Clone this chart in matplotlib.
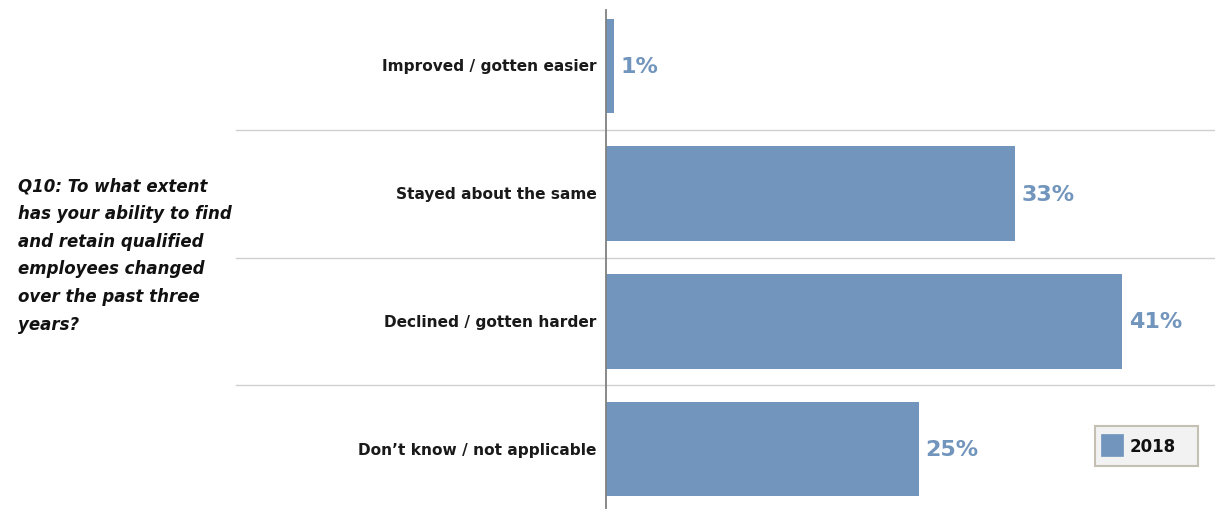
import matplotlib
matplotlib.use("Agg")
import matplotlib.pyplot as plt
from matplotlib.patches import Rectangle
from matplotlib.lines import Line2D

categories = ["Improved / gotten easier", "Stayed about the same",
              "Declined / gotten harder", "Don\u2019t know / not applicable"]
values_2018 = [0.65, 32.7, 41.3, 25.0]
series_name = "2018"
question = ("Q10: To what extent\nhas your ability to find\nand retain qualified\n"
            "employees changed\nover the past three\nyears?")

BAR = "#7195BC"
W, H = 1215, 510
fig = plt.figure(figsize=(W / 100, H / 100), dpi=100)
ax = fig.add_axes([606 / W, -4 / H, 1 - 606 / W, 511 / H])
n = len(categories)
ypos = list(range(n))
ax.barh(ypos, values_2018, height=0.74, color=BAR, zorder=2)
ax.set_xlim(0, 48.7)
ax.set_ylim(n - 0.5, -0.5)
for s in ["top", "right", "bottom"]:
    ax.spines[s].set_visible(False)
ax.spines["left"].set_color("#808080")
ax.spines["left"].set_linewidth(1.3)
ax.spines["left"].set_bounds(n - 0.5, -0.44)
ax.set_xticks([])
ax.set_yticks([])

for y, v, c in zip(ypos, values_2018, categories):
    ax.text(v + 0.5, y, f"{round(v)}%", va="center", ha="left", color=BAR,
            fontsize=16, fontweight="bold")
    ax.text(-0.75, y, c, va="center", ha="right", color="#1a1a1a",
            fontsize=11.05, fontweight="bold")

# separators
for y in [0.5, 1.5, 2.5]:
    line = Line2D([-29.6, 48.7], [y, y], color="#d0d0d0", lw=1.0,
                  transform=ax.transData, clip_on=False, zorder=1)
    ax.add_line(line)

fig.text(18 / W, 1 - 177 / H, question, ha="left", va="top", fontsize=12,
         fontweight="bold", fontstyle="italic", linespacing=1.70, color="#111111")

# legend box
fig.add_artist(Rectangle((1095 / W, 1 - 467 / H), 103 / W, 40 / H,
                         transform=fig.transFigure, facecolor="#f2f2f2",
                         edgecolor="#c4c0b4", linewidth=1.5))
fig.add_artist(Rectangle((1101 / W, 1 - 457 / H), 22 / W, 22 / H,
                         transform=fig.transFigure, facecolor=BAR,
                         edgecolor=BAR, linewidth=0.5))
fig.text(1130 / W, 1 - 447 / H, series_name, ha="left", va="center",
         fontsize=12, fontweight="bold", color="#111111")

fig.savefig("out.png", dpi=100)
